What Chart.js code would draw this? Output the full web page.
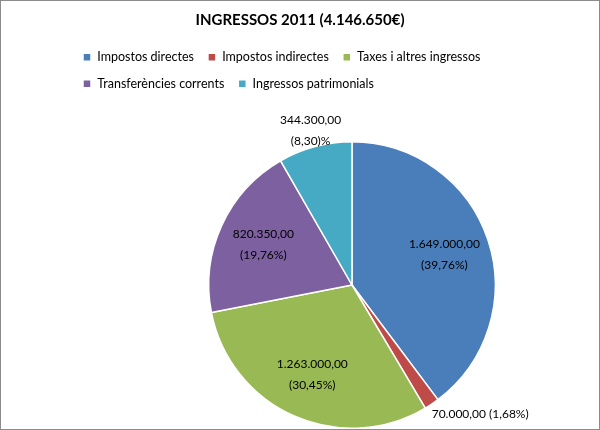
<!DOCTYPE html>
<html><head><meta charset="utf-8">
<script src="https://cdn.jsdelivr.net/npm/chart.js@4"></script>
<style>html,body{margin:0;padding:0;background:#fff}#w{width:598px;height:428px;border:1px solid #8c8c8c}</style>
</head><body><div id="w"><canvas id="c" width="598" height="428"></canvas></div>
<script>
const categories = ["Impostos directes","Impostos indirectes","Taxes i altres ingressos","Transferències corrents","Ingressos patrimonials"];
const values = [1649000, 70000, 1263000, 820350, 344300];
const valueLabels = ["1.649.000,00","70.000,00","1.263.000,00","820.350,00","344.300,00"];
const pctLabels = ["(39,76%)","(1,68%)","(30,45%)","(19,76%)","(8,30)%"];
const colors = ["#4a7ebb","#be4b48","#98b954","#7d60a0","#46aac5"];
const FONT = "Lato, 'Open Sans', sans-serif";

const areaPlugin = {
  id:'area',
  afterLayout(chart){
    const a = chart.chartArea;
    a.left=207; a.right=495; a.top=140; a.bottom=428;
    a.width=a.right-a.left; a.height=a.bottom-a.top;
  }
};
const labelPlugin = {
  id:'lbl',
  afterDatasetsDraw(chart){
    const ctx = chart.ctx;
    const meta = chart.getDatasetMeta(0);
    ctx.save();
    ctx.font = "12px " + FONT;
    ctx.fillStyle = "#000";
    meta.data.forEach((arc,i)=>{
      const p = arc.getProps(['x','y','startAngle','endAngle','outerRadius'],true);
      const mid = (p.startAngle+p.endAngle)/2;
      if (i===1){
        const x = p.x + Math.cos(mid)*p.outerRadius, y = p.y + Math.sin(mid)*p.outerRadius;
        ctx.textAlign='left'; ctx.textBaseline='middle';
        ctx.fillText(valueLabels[i]+" "+pctLabels[i], x, y+10);
      } else {
        const f = i===4 ? 1.12 : 0.68;
        const x = p.x + Math.cos(mid)*p.outerRadius*f, y = p.y + Math.sin(mid)*p.outerRadius*f;
        ctx.textAlign='center'; ctx.textBaseline='middle';
        ctx.fillText(valueLabels[i], x, y-10);
        ctx.fillText(pctLabels[i], x, y+11);
      }
    });
    ctx.restore();
  }
};
new Chart(document.getElementById('c'),{
  type:'pie',
  data:{labels:categories,datasets:[{data:values,backgroundColor:colors,borderColor:"#ffffff",borderWidth:1.5}]},
  options:{
    responsive:false,animation:false,
    layout:{padding:{top:6,left:68,right:68}},
    plugins:{
      title:{display:true,text:"INGRESSOS 2011 (4.146.650€)",color:"#000",font:{family:FONT,size:15,weight:'bold'},padding:{top:4,bottom:8}},
      legend:{position:'top',align:'start',labels:{color:"#000",boxWidth:8,boxHeight:8,padding:14,font:{family:FONT,size:12.5}}},
      tooltip:{enabled:false}
    }
  },
  plugins:[areaPlugin,labelPlugin]
});
</script></body></html>
